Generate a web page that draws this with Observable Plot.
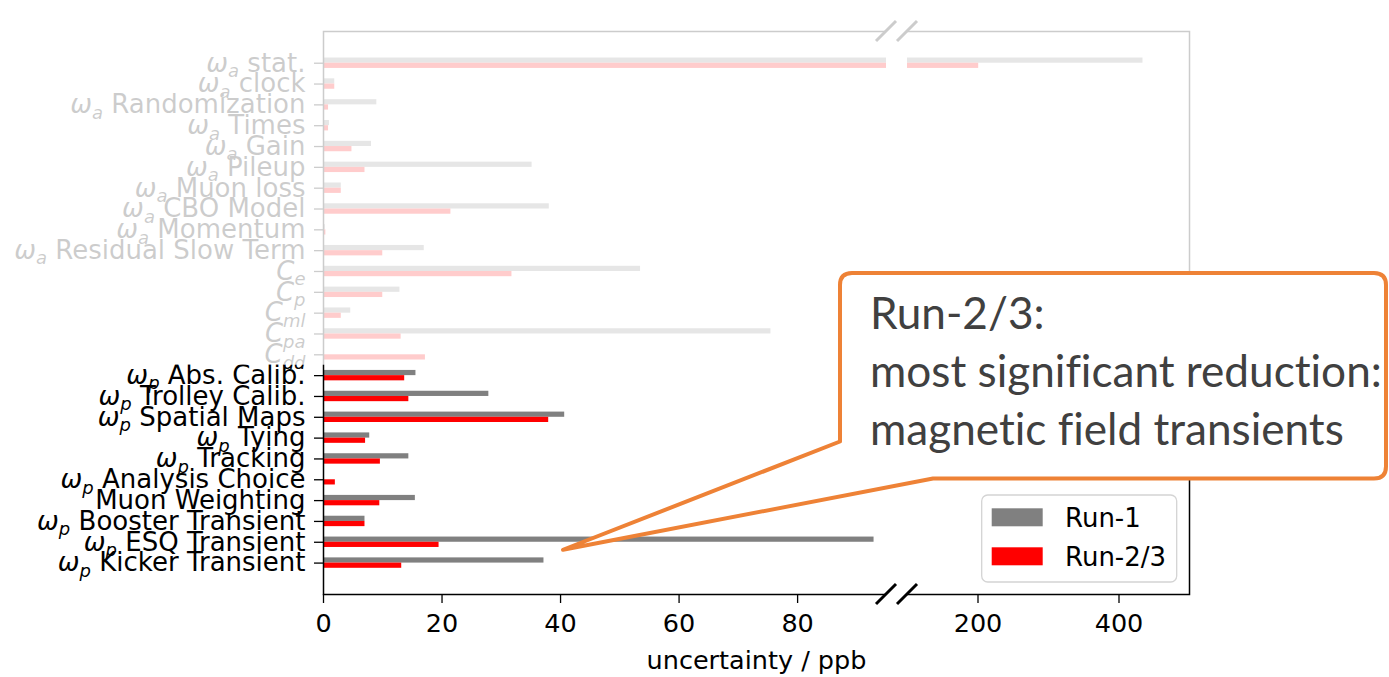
<!DOCTYPE html>
<html>
<head>
<meta charset="utf-8">
<script src="https://cdn.jsdelivr.net/npm/d3@7"></script>
<script src="https://cdn.jsdelivr.net/npm/@observablehq/plot@0.6"></script>
<style>
  html, body { margin: 0; padding: 0; background: white; }
  #chart { position: relative; width: 1389px; height: 677px; overflow: hidden; }
</style>
</head>
<body>
<div id="chart"></div>
<script>
// ---------------- data ----------------
const categories = [
  "ω_a stat.", "ω_a clock", "ω_a Randomization", "ω_a Times", "ω_a Gain",
  "ω_a Pileup", "ω_a Muon loss", "ω_a CBO Model", "ω_a Momentum", "ω_a Residual Slow Term",
  "C_e", "C_p", "C_ml", "C_pa", "C_dd",
  "ω_p Abs. Calib.", "ω_p Trolley Calib.", "ω_p Spatial Maps", "ω_p Tying", "ω_p Tracking",
  "ω_p Analysis Choice", "Muon Weighting", "ω_p Booster Transient", "ω_p ESQ Transient", "ω_p Kicker Transient"
];
const run1 = [434, 1.9, 9.0, 1.0, 8.1, 35.2, 3.0, 38.1, 0.3, 17.0,
              53.5, 12.9, 4.6, 75.5, 0,
              15.6, 27.9, 40.7, 7.8, 14.4, 0, 15.5, 7.0, 92.9, 37.2];
const run23 = [201, 1.9, 0.85, 0.85, 4.8, 7.0, 3.0, 21.5, 0.4, 10.0,
               31.8, 10.0, 3.0, 13.1, 17.2,
               13.7, 14.4, 38.0, 7.1, 9.6, 2.0, 9.5, 7.0, 19.5, 13.2];
const seriesNames = ["Run-1", "Run-2/3"];
const seriesColors = ["#808080", "#ff0000"];
const xTicks = [0, 20, 40, 60, 80, 200, 400];
const xLabel = "uncertainty / ppb";
const nFaded = 15; // ω_a and C rows are greyed out
const breakLo = 95, breakHi = 100, xMax = 500;
const calloutLines = ["Run-2/3:", "most significant reduction:", "magnetic field transients"];
const calloutTarget = 40.5; // ppb, where the callout points (ESQ row)

// ---------------- broken x axis (two linear pieces) ----------------
const leftPx = 563, gapPx = 21, rightPx = 282;
const brk = v => v <= breakLo ? v / breakLo * leftPx
  : v < breakHi ? leftPx + (v - breakLo) / (breakHi - breakLo) * gapPx
  : leftPx + gapPx + (v - breakHi) / (xMax - breakHi) * rightPx;
const tickLabelOf = new Map(xTicks.map(t => [Math.round(brk(t) * 1000), String(t)]));

// ---------------- plot ----------------
const data = categories.map((c, i) => ({cat: c, run1: run1[i], run23: run23[i]}));
const W = 1389, H = 677;
const mL = 323, mR = 200, mT = 31, mB = 83;
const step = 20.83, half = step / 2, barH = step / 4;

const plot = Plot.plot({
  width: W, height: H,
  marginLeft: mL, marginRight: mR, marginTop: mT, marginBottom: mB,
  style: {fontFamily: "DejaVu Sans", background: "white", color: "black"},
  x: {domain: [0, brk(xMax)]},
  y: {domain: categories, padding: 0, round: false, insetTop: 21.3, insetBottom: 21},
  marks: [
    Plot.barX(data, {y: "cat", x: d => brk(d.run1), fill: seriesColors[0], insetTop: half - barH, insetBottom: half}),
    Plot.barX(data, {y: "cat", x: d => brk(d.run23), fill: seriesColors[1], insetTop: half, insetBottom: half - barH}),
    Plot.frame({stroke: "black", strokeWidth: 1.5}),
    Plot.rect([0], {x1: brk(breakLo), x2: brk(breakHi), fill: "white", insetTop: -3, insetBottom: -3}),
    Plot.axisY({tickSize: 9, tickPadding: 9, fontSize: 26, label: null, strokeWidth: 1.3}),
    Plot.axisX(xTicks.map(brk), {tickSize: 9, tickPadding: 10, fontSize: 25.5, label: null, strokeWidth: 1.3,
      tickFormat: v => tickLabelOf.get(Math.round(v * 1000))}),
    Plot.text([xLabel], {frameAnchor: "bottom", dy: 74, fontSize: 25.5, fill: "black"})
  ]
});
document.getElementById("chart").appendChild(plot);

const svgns = "http://www.w3.org/2000/svg";
function el(tag, attrs, parent) {
  const e = document.createElementNS(svgns, tag);
  for (const k in attrs) e.setAttribute(k, attrs[k]);
  (parent || plot).appendChild(e);
  return e;
}

// rich y labels: italic symbol with subscript
plot.querySelectorAll('g[aria-label="y-axis tick label"] text').forEach(t => {
  const label = t.textContent;
  const m = label.match(/^(ω|C)_(\w+)(.*)$/);
  if (!m) return;
  t.textContent = "";
  const a = el("tspan", {"font-style": "italic"}, t); a.textContent = m[1];
  const b = el("tspan", {"font-style": "italic", "font-size": "18px", dy: "5.5"}, t); b.textContent = m[2];
  if (m[3]) { const c = el("tspan", {dy: "-5.5"}, t); c.textContent = m[3]; }
});

const xs = plot.scale("x"), ys = plot.scale("y");
// break marks
for (const v of [breakLo, breakHi]) {
  const px = xs.apply(brk(v));
  for (const py of [mT, H - mB]) {
    el("line", {x1: px - 10, y1: py + 10, x2: px + 10, y2: py - 10, stroke: "black", "stroke-width": 3});
  }
}

// fade overlay for ω_a / C rows
const fadeBottom = ys.apply(categories[nFaded]);
el("rect", {x: 0, y: 0, width: W, height: fadeBottom, fill: "white", "fill-opacity": 0.8});

// legend
const lg = el("g", {"font-family": "DejaVu Sans", "font-size": 26, "text-anchor": "start"});
el("rect", {x: 981.7, y: 495, width: 195, height: 87, rx: 6, fill: "white", stroke: "#d4d4d4", "stroke-width": 1.3}, lg);
seriesNames.forEach((s, i) => {
  const y0 = 508.3 + i * 39;
  el("rect", {x: 991.7, y: y0, width: 51, height: 18, fill: seriesColors[i]}, lg);
  const t = el("text", {x: 1065, y: y0 + 18.2, fill: "black"}, lg);
  t.textContent = s;
});

// callout
const tipX = xs.apply(brk(calloutTarget));
const tipY = ys.apply(categories[23]) + ys.bandwidth / 2 + 8;
const bx0 = 840, bx1 = 1386, by0 = 273, by1 = 478.5, r = 12;
const d = `M${bx0 + r},${by0} H${bx1 - r} Q${bx1},${by0} ${bx1},${by0 + r} V${by1 - r} Q${bx1},${by1} ${bx1 - r},${by1} ` +
          `H933 L${tipX},${tipY} L${bx0},441.5 V${by0 + r} Q${bx0},${by0} ${bx0 + r},${by0} Z`;
el("path", {d, fill: "white", stroke: "#EE8236", "stroke-width": 4, "stroke-linejoin": "round"});
const cg = el("g", {"font-family": "Lato", fill: "#404040", "text-anchor": "start",
                    style: "font-variant-ligatures: none; font-feature-settings: 'liga' 0;"});
const texts = calloutLines.map((s, i) => {
  const t = el("text", {x: 870, y: [328.5, 386.7, 444.5][i], "font-size": 44}, cg);
  t.textContent = s;
  return t;
});
const w = texts[1].getComputedTextLength();
const fs = 44 * 512 / w;
texts.forEach(t => t.setAttribute("font-size", fs.toFixed(2)));
</script>
</body>
</html>
